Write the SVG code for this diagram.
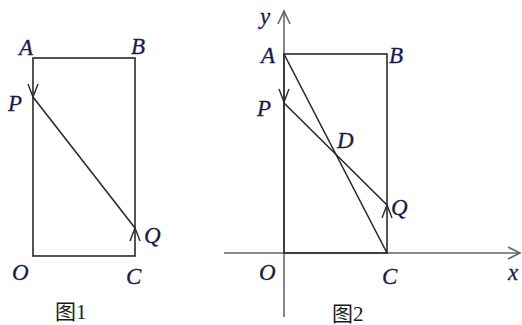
<svg xmlns="http://www.w3.org/2000/svg" width="522" height="325" viewBox="0 0 522 325">
<style>
.ln{fill:none;stroke:#2a2a2a;stroke-width:1.6}
.ax{fill:none;stroke:#666;stroke-width:1.6}
.ar{fill:none;stroke:#2a2a2a;stroke-width:1.4}
.lb{font-family:"Liberation Serif",serif;font-style:italic;font-size:23px;fill:#1a1a4a;stroke:#1a1a4a;stroke-width:0.3}
.cap{font-family:"Liberation Serif","Noto Sans CJK SC",serif;font-size:21px;fill:#1a1a1a}
</style>
<rect width="522" height="325" fill="#fff"/>
<g id="connectors">
<rect class="ln" x="33" y="58" width="102" height="198"/>
<line class="ln" x1="33" y1="97" x2="135" y2="228"/>
<polyline class="ar" points="28,84 33,97 38,84"/>
<polyline class="ar" points="130,241 135,228 140,241"/>
<line class="ax" x1="284" y1="317" x2="284" y2="11"/>
<polyline class="ax" points="278,24 284,11 290,24"/>
<line class="ax" x1="224" y1="253" x2="520" y2="253"/>
<polyline class="ax" points="508,247 520,253 508,259"/>
<rect class="ln" x="284" y="54" width="103" height="199"/>
<line class="ln" x1="284" y1="54" x2="387" y2="253"/>
<line class="ln" x1="284" y1="103" x2="387" y2="205"/>
<polyline class="ar" points="279,89 284,102 289,89"/>
<polyline class="ar" points="382,218 387,205 392,218"/>
</g>
<g id="fig1-labels">
<text class="lb" x="19" y="55">A</text>
<text class="lb" x="131" y="54">B</text>
<text class="lb" x="8" y="111">P</text>
<text class="lb" x="12" y="280">O</text>
<text class="lb" x="126" y="284">C</text>
<text class="lb" x="144" y="243">Q</text>
<text class="cap" x="55" y="319">图1</text>
</g>
<g id="fig2-labels">
<text class="lb" x="260" y="24">y</text>
<text class="lb" x="261" y="63">A</text>
<text class="lb" x="389" y="63">B</text>
<text class="lb" x="257" y="116">P</text>
<text class="lb" x="337" y="148">D</text>
<text class="lb" x="391" y="215">Q</text>
<text class="lb" x="259" y="280">O</text>
<text class="lb" x="382" y="284">C</text>
<text class="lb" x="508" y="280">x</text>
<text class="cap" x="332" y="321">图2</text>
</g>
</svg>
